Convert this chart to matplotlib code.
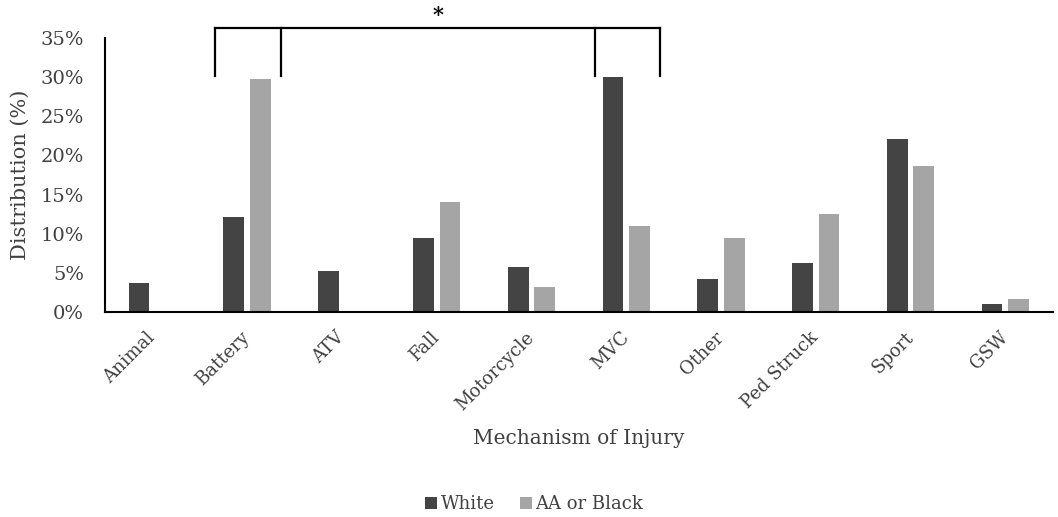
import matplotlib.pyplot as plt
import numpy as np
from matplotlib.ticker import FuncFormatter

plt.rcParams['font.family'] = ['DejaVu Serif']

# mechanism of injury categories and distribution (%) per group
mechanisms = ["Animal", "Battery", "ATV", "Fall", "Motorcycle",
              "MVC", "Other", "Ped Struck", "Sport", "GSW"]
white = [3.7, 12.1, 5.3, 9.4, 5.8, 30.0, 4.2, 6.3, 22.1, 1.0]
aa_black = [0.0, 29.7, 0.0, 14.0, 3.2, 11.0, 9.4, 12.5, 18.7, 1.6]

dark = '#444444'
light = '#a5a5a5'
txt = '#404040'

fig = plt.figure(figsize=(10.58, 5.17), dpi=100)
ax = fig.add_axes([0.0992, 0.3965, 0.8958, 0.53])

x = np.arange(len(mechanisms))
w = 0.22
ax.bar(x - 0.14, white, width=w, color=dark, label='White')
ax.bar(x + 0.14, aa_black, width=w, color=light, label='AA or Black')

ax.set_xlim(-0.5, len(mechanisms) - 0.5)
ax.set_ylim(0, 35)
ax.set_yticks(np.arange(0, 36, 5))
ax.yaxis.set_major_formatter(FuncFormatter(lambda v, p: f"{v:.0f}%"))
ax.tick_params(axis='y', length=0, labelsize=14, pad=15, colors=txt)
ax.tick_params(axis='x', length=0, labelsize=13, colors=txt)
ax.set_xticks(x)
ax.set_xticklabels(mechanisms, rotation=45, ha='right', va='center',
                   rotation_mode='anchor')
for lbl in ax.get_xticklabels():
    lbl.set_y(-0.065)

for side in ['top', 'right']:
    ax.spines[side].set_visible(False)
ax.spines['left'].set_linewidth(1.5)
ax.spines['bottom'].set_linewidth(1.5)

ax.set_ylabel("Distribution (%)", fontsize=15, color=txt, labelpad=8)
ax.set_xlabel("Mechanism of Injury", fontsize=14.5, color=txt, labelpad=11)

# significance bracket between Battery and MVC groups
b, m = mechanisms.index("Battery"), mechanisms.index("MVC")
top_y, low_y = 36.3, 30.1
kw = dict(color='black', lw=1.6, clip_on=False)
ax.plot([b - 0.34, m + 0.36], [top_y, top_y], **kw)
for xv in [b - 0.34, b + 0.36, m - 0.33, m + 0.36]:
    ax.plot([xv, xv], [top_y, low_y], **kw)
ax.text((b + m) / 2 + 0.01, 37.9, "*", ha='center', va='center',
        fontsize=15, fontweight='bold', clip_on=False)

fig.legend(loc='center', bbox_to_anchor=(0.505, 0.025), ncol=2, frameon=False,
           fontsize=13, handlelength=0.65, handleheight=0.65, handletextpad=0.2,
           columnspacing=1.4, labelcolor=txt)

fig.savefig('out.png', dpi=100)
